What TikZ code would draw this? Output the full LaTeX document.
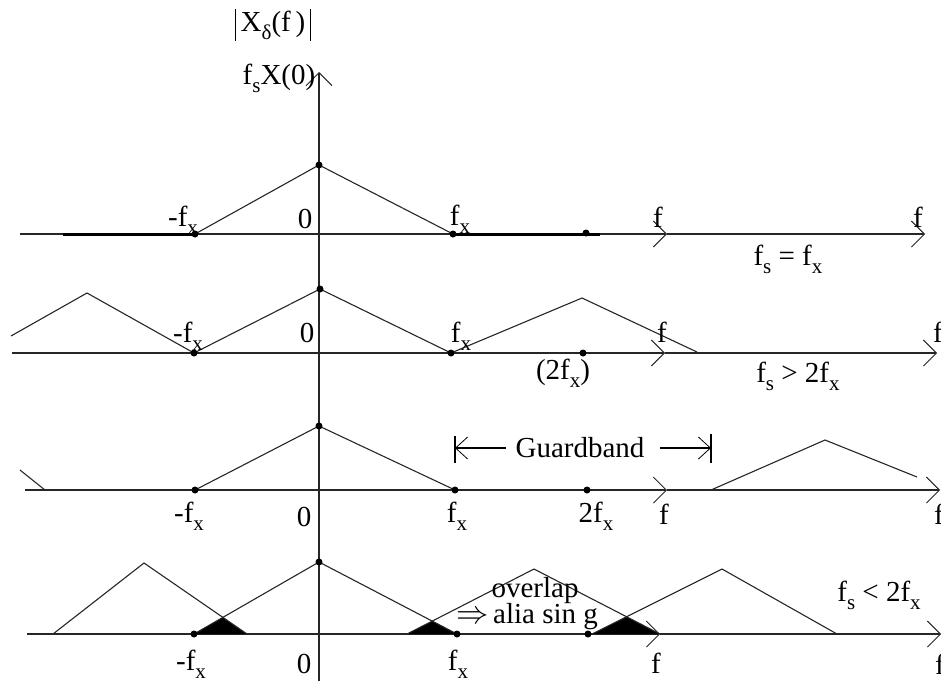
\documentclass[tikz,border=0pt]{standalone}
\usepackage{graphicx}
\usepackage{fontspec}
\setmainfont{Liberation Serif}
\usetikzlibrary{arrows.meta}

\newcommand{\fsub}[1]{f\raisebox{-0.27em}{\fontsize{21}{21}\selectfont #1}}

\begin{document}
\begin{tikzpicture}[
  x=1pt, y=-1pt,
  freq axis/.style={
    line width=1.3pt,
    draw=black!85
  },
  axis tip/.style={
    -{Straight Barb[length=13pt,width=26pt,line width=0.9pt]}
  },
  spectrum/.style={
    line width=1.1pt,
    draw=black!85
  },
  baseband/.style={
    line width=3pt,
    draw=black
  },
  sample dot/.style={
    circle,
    fill=black,
    minimum size=7pt,
    inner sep=0pt
  },
  tick text/.style={
    font=\fontsize{29}{32}\selectfont,
    inner sep=0pt
  },
  alias fill/.style={
    fill=black
  }
]
\useasboundingbox (0,0) rectangle (941,681);

% vertical axis
\coordinate (V-bot) at (319,681);
\coordinate (V-top) at (319,72);
\draw[freq axis, axis tip] (V-bot) -- (V-top);
\node[tick text] (V-name) at (273,25)
  {\vrule width 1.2pt height 0.78em depth 0.32em\,X\raisebox{-0.27em}{\fontsize{21}{21}\selectfont δ}(f\,)\,\vrule width 1.2pt height 0.78em depth 0.32em};
\node[tick text] (V-max) at (279,78) {\fsub{s}X(0)};

% row A: fs = fx
\coordinate (A-start) at (20,234);
\coordinate (A-mid) at (667,234);
\coordinate (A-end) at (925,234);
\draw[freq axis, axis tip] (A-start) -- (A-mid);
\draw[freq axis, axis tip] (A-mid) -- (A-end);
\coordinate (A-nfx) at (195,234);
\coordinate (A-peak) at (319,165);
\coordinate (A-fx) at (453,234);
\coordinate (A-b1) at (63,234);
\coordinate (A-b2) at (600,234);
\draw[baseband] (A-b1) -- (A-nfx);
\draw[baseband] (A-fx) -- (A-b2);
\draw[spectrum] (A-nfx) -- (A-peak) -- (A-fx);
\foreach \p in {A-nfx, A-peak, A-fx} {
  \node[sample dot] at (\p) {};
}
\node[sample dot] (A-fs) at (586,233) {};
\node[tick text] (A-l1) at (183,220) {-\fsub{x}};
\node[tick text] (A-l2) at (305,219) {0};
\node[tick text] (A-l3) at (460,219) {\fsub{x}};
\node[tick text] (A-l4) at (658,217) {f};
\node[tick text] (A-l5) at (918,217) {f};
\node[tick text] (A-cond) at (788,259) {\fsub{s} = \fsub{x}};

% row B: fs > 2fx
\coordinate (B-start) at (12,353);
\coordinate (B-mid) at (665,353);
\coordinate (B-end) at (937,353);
\draw[freq axis, axis tip] (B-start) -- (B-mid);
\draw[freq axis, axis tip] (B-mid) -- (B-end);
\coordinate (B-s) at (11,336);
\coordinate (B-p1) at (87,293);
\coordinate (B-nfx) at (194,353);
\coordinate (B-peak) at (320,289);
\coordinate (B-fx) at (451,353);
\coordinate (B-p2) at (582,298);
\coordinate (B-e) at (697,352);
\draw[spectrum] (B-s) -- (B-p1) -- (B-nfx) -- (B-peak) -- (B-fx) -- (B-p2) -- (B-e);
\foreach \p in {B-nfx, B-peak, B-fx} {
  \node[sample dot] at (\p) {};
}
\node[sample dot] (B-fs) at (583,353) {};
\node[tick text] (B-l1) at (188,336) {-\fsub{x}};
\node[tick text] (B-l2) at (307,333) {0};
\node[tick text] (B-l3) at (461,336) {\fsub{x}};
\node[tick text] (B-l4) at (662,332) {f};
\node[tick text] (B-l5) at (938,332) {f};
\node[tick text] (B-l6) at (563,373) {(2\fsub{x})};
\node[tick text] (B-cond) at (798,376) {\fsub{s} > 2\fsub{x}};

% row C: guardband
\coordinate (C-start) at (25,490);
\coordinate (C-mid) at (667,490);
\coordinate (C-end) at (940,490);
\draw[freq axis, axis tip] (C-start) -- (C-mid);
\draw[freq axis, axis tip] (C-mid) -- (C-end);
\coordinate (C-s1) at (20,470);
\coordinate (C-e1) at (45,490);
\draw[spectrum] (C-s1) -- (C-e1);
\coordinate (C-nfx) at (195,490);
\coordinate (C-peak) at (319,426);
\coordinate (C-fx) at (455,490);
\draw[spectrum] (C-nfx) -- (C-peak) -- (C-fx);
\coordinate (C-s3) at (711,490);
\coordinate (C-p3) at (825,440);
\coordinate (C-e3) at (917,477);
\draw[spectrum] (C-s3) -- (C-p3) -- (C-e3);
\foreach \p in {C-nfx, C-peak, C-fx} {
  \node[sample dot] at (\p) {};
}
\node[sample dot] (C-fs) at (587,490) {};
\coordinate (C-gl1) at (455,436);
\coordinate (C-gl2) at (455,463);
\coordinate (C-gr1) at (711,434);
\coordinate (C-gr2) at (711,463);
\draw[spectrum, black] (C-gl1) -- (C-gl2);
\draw[spectrum, black] (C-gr1) -- (C-gr2);
\node[tick text] (C-guard) at (580,448) {Guardband};
\coordinate (C-gla) at (506,448);
\coordinate (C-gra) at (660,448);
\draw[spectrum, black, -{Straight Barb[length=12pt,width=22pt,line width=0.8pt]}] (C-gla) -- (C-gl1 |- C-gla);
\draw[spectrum, black, -{Straight Barb[length=12pt,width=22pt,line width=0.8pt]}] (C-gra) -- (C-gr1 |- C-gra);
\node[tick text] (C-l1) at (189,516) {-\fsub{x}};
\node[tick text] (C-l2) at (304,517) {0};
\node[tick text] (C-l3) at (457,516) {\fsub{x}};
\node[tick text] (C-l4) at (596,516) {2\fsub{x}};
\node[tick text] (C-l5) at (664,514) {f};
\node[tick text] (C-l6) at (939,514) {f};

% row D: fs < 2fx, aliasing
\coordinate (D-start) at (27,634);
\coordinate (D-mid) at (660,634);
\coordinate (D-end) at (941,634);
\draw[freq axis, axis tip] (D-start) -- (D-mid);
\draw[freq axis, axis tip] (D-mid) -- (D-end);
\foreach \n/\s/\p/\h/\e in {1/53/144/563/247, 2/194/319/562/457, 3/407/534/569/660, 4/592/722/569/837} {
  \coordinate (D-s\n) at (\s,634);
  \coordinate (D-p\n) at (\p,\h);
  \coordinate (D-e\n) at (\e,634);
}
% crossing points of neighbouring triangles
\coordinate (D-x1) at (222.8,617.3);
\coordinate (D-x2) at (432.2,621);
\coordinate (D-x3) at (626.5,616.7);
\foreach \n/\m in {1/2, 2/3, 3/4} {
  \fill[alias fill] (D-s\m) -- (D-x\n) -- (D-e\n) -- cycle;
}
\foreach \n in {1,...,4} {
  \draw[spectrum] (D-s\n) -- (D-p\n) -- (D-e\n);
}
\foreach \p in {D-s2, D-p2, D-e2} {
  \node[sample dot] at (\p) {};
}
\node[sample dot] (D-fs) at (588,634) {};
\node[tick text] (D-l1) at (191,664) {-\fsub{x}};
\node[tick text] (D-l2) at (304,664) {0};
\node[tick text] (D-l3) at (458,664) {\fsub{x}};
\node[tick text] (D-l4) at (656,663) {f};
\node[tick text] (D-l5) at (940,664) {f};
\node[tick text] (D-over) at (535,591) {overlap};
\node[tick text] (D-alias) at (527,617) {\scalebox{1.3}{$\Rightarrow$}\,alia sin g};
\node[tick text] (D-cond) at (879,595) {\fsub{s} < 2\fsub{x}};
\end{tikzpicture}
\end{document}
